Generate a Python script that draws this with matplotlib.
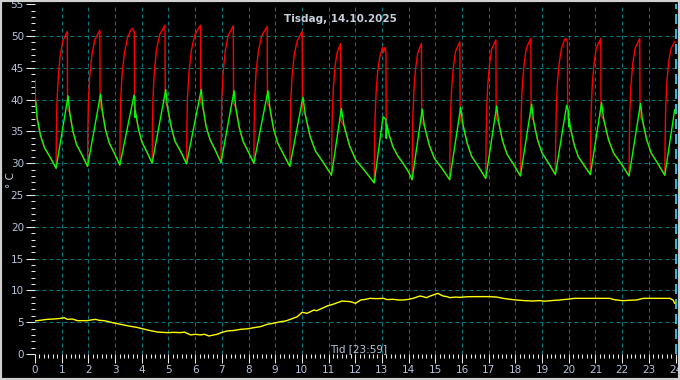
import numpy as np
import matplotlib
matplotlib.use("Agg")
import matplotlib.pyplot as plt
from matplotlib.patches import Rectangle

# hours of the day on the x axis, temperatures in deg C
hours = list(range(25))
temp_ticks = list(range(0, 56, 5))

# red: supply temperature (time, value)
red = [
    (0.00, 43.1), (0.01, 41.0), (0.03, 39.6), (0.08, 37.1), (0.21, 34.3), (0.36, 32.4), (0.56, 31.0),
    (0.79, 29.2), (0.80, 34.6), (0.82, 39.3), (0.87, 43.4), (0.94, 46.8), (1.04, 49.2), (1.21, 50.7),
    (1.22, 38.6), (1.30, 38.0), (1.42, 35.0), (1.56, 32.9), (1.75, 31.4),
    (1.97, 29.5), (1.98, 34.9), (2.00, 39.6), (2.05, 43.6), (2.13, 47.0), (2.24, 49.4), (2.43, 50.9),
    (2.44, 38.9), (2.52, 38.3), (2.64, 35.3), (2.78, 33.2), (2.97, 31.6),
    (3.18, 29.7), (3.19, 35.1), (3.21, 39.8), (3.26, 43.9), (3.35, 47.3), (3.47, 49.8), (3.60, 51.0),
    (3.66, 51.2), (3.72, 50.6), (3.73, 39.0), (3.76, 38.2), (3.88, 35.3), (4.01, 33.3), (4.19, 31.8),
    (4.39, 30.0), (4.40, 35.4), (4.42, 40.2), (4.47, 44.3), (4.55, 47.8), (4.67, 50.2), (4.87, 51.7),
    (4.88, 39.6), (4.96, 38.9), (5.10, 35.8), (5.24, 33.5), (5.45, 31.9),
    (5.68, 29.9), (5.69, 35.4), (5.71, 40.1), (5.77, 44.3), (5.86, 47.8), (5.99, 50.2), (6.20, 51.7),
    (6.21, 39.6), (6.29, 38.9), (6.41, 35.8), (6.56, 33.7), (6.75, 32.1),
    (6.97, 30.1), (6.98, 35.5), (7.00, 40.2), (7.05, 44.3), (7.13, 47.7), (7.24, 50.1), (7.43, 51.6),
    (7.44, 39.4), (7.52, 38.8), (7.65, 35.7), (7.79, 33.5), (7.98, 31.9),
    (8.20, 30.0), (8.21, 35.4), (8.23, 40.1), (8.28, 44.2), (8.37, 47.6), (8.49, 50.0), (8.70, 51.5),
    (8.71, 39.4), (8.80, 38.7), (8.94, 35.4), (9.09, 33.2), (9.30, 31.5),
    (9.55, 29.5), (9.56, 34.8), (9.58, 39.5), (9.63, 43.5), (9.71, 46.9), (9.82, 49.2), (10.01, 50.7),
    (10.02, 38.4), (10.13, 37.6), (10.31, 34.2), (10.51, 31.9), (10.79, 30.2),
    (11.11, 28.1), (11.12, 33.3), (11.14, 37.8), (11.18, 41.8), (11.24, 45.1), (11.32, 47.4), (11.45, 48.8),
    (11.46, 36.6), (11.58, 35.9), (11.79, 32.7), (12.02, 30.5), (12.34, 28.9),
    (12.71, 26.9), (12.72, 32.2), (12.74, 36.9), (12.78, 41.0), (12.84, 44.4), (12.92, 46.7), (13.02, 48.2),
    (13.06, 47.4), (13.11, 48.2), (13.15, 47.5), (13.16, 36.0), (13.26, 34.6), (13.41, 32.6), (13.60, 31.1),
    (13.79, 30.0), (14.00, 28.6),
    (14.13, 27.4), (14.14, 32.8), (14.16, 37.5), (14.20, 41.5), (14.26, 44.9), (14.34, 47.3), (14.48, 48.8),
    (14.49, 36.5), (14.59, 35.9), (14.77, 32.9), (14.96, 30.8), (15.23, 29.3),
    (15.54, 27.4), (15.55, 32.8), (15.57, 37.6), (15.61, 41.7), (15.68, 45.2), (15.76, 47.6), (15.92, 49.1),
    (15.93, 36.8), (16.03, 36.2), (16.19, 33.2), (16.36, 31.1), (16.61, 29.5),
    (16.89, 27.6), (16.90, 33.1), (16.92, 37.8), (16.96, 42.0), (17.03, 45.5), (17.11, 47.9), (17.27, 49.4),
    (17.28, 37.0), (17.37, 36.5), (17.52, 33.5), (17.69, 31.4), (17.92, 29.9),
    (18.19, 28.0), (18.20, 33.4), (18.22, 38.2), (18.26, 42.3), (18.33, 45.7), (18.41, 48.1), (18.58, 49.6),
    (18.59, 37.3), (18.68, 36.7), (18.83, 33.7), (19.00, 31.6), (19.23, 30.1),
    (19.50, 28.2), (19.51, 33.6), (19.53, 38.3), (19.57, 42.3), (19.64, 45.7), (19.73, 48.1), (19.84, 49.4),
    (19.90, 49.6), (19.95, 49.1), (19.96, 37.2), (20.07, 35.4), (20.21, 32.8), (20.36, 31.0), (20.57, 29.7),
    (20.81, 28.2), (20.82, 33.6), (20.84, 38.3), (20.88, 42.3), (20.95, 45.7), (21.03, 48.1), (21.20, 49.6),
    (21.21, 37.5), (21.31, 36.9), (21.49, 33.7), (21.68, 31.6), (21.95, 30.0),
    (22.26, 28.0), (22.27, 33.4), (22.29, 38.2), (22.33, 42.3), (22.40, 45.7), (22.49, 48.1), (22.66, 49.6),
    (22.67, 37.4), (22.76, 36.8), (22.92, 33.7), (23.09, 31.6), (23.33, 30.0),
    (23.60, 28.1), (23.61, 33.5), (23.63, 38.3), (23.67, 42.4), (23.74, 45.8), (23.83, 48.0), (23.97, 49.1),
]

# green: return temperature
green = [
    (0.00, 39.9), (0.03, 39.6), (0.08, 37.1), (0.21, 34.3), (0.36, 32.4), (0.56, 31.0),
    (0.79, 29.2), (1.24, 40.6), (1.30, 38.0), (1.42, 35.0), (1.56, 32.9), (1.75, 31.4),
    (1.97, 29.5), (2.46, 40.9), (2.52, 38.3), (2.64, 35.3), (2.78, 33.2), (2.97, 31.6),
    (3.18, 29.7), (3.71, 40.7), (3.74, 40.2), (3.75, 37.2), (3.76, 38.2), (3.88, 35.3), (4.01, 33.3), (4.19, 31.8),
    (4.39, 30.0), (4.90, 41.6), (4.96, 38.9), (5.10, 35.8), (5.24, 33.5), (5.45, 31.9),
    (5.68, 29.9), (6.23, 41.6), (6.29, 38.9), (6.41, 35.8), (6.56, 33.7), (6.75, 32.1),
    (6.97, 30.1), (7.46, 41.4), (7.52, 38.8), (7.65, 35.7), (7.79, 33.5), (7.98, 31.9),
    (8.20, 30.0), (8.73, 41.4), (8.80, 38.7), (8.94, 35.4), (9.09, 33.2), (9.30, 31.5),
    (9.55, 29.5), (10.04, 40.4), (10.13, 37.6), (10.31, 34.2), (10.51, 31.9), (10.79, 30.2),
    (11.11, 28.1), (11.48, 38.6), (11.58, 35.9), (11.79, 32.7), (12.02, 30.5), (12.34, 28.9),
    (12.71, 26.9), (13.04, 37.3), (13.15, 36.9), (13.16, 33.9), (13.18, 36.2), (13.26, 34.6), (13.41, 32.6),
    (13.60, 31.1), (13.79, 30.0), (14.00, 28.6),
    (14.13, 27.4), (14.51, 38.5), (14.59, 35.9), (14.77, 32.9), (14.96, 30.8), (15.23, 29.3),
    (15.54, 27.4), (15.95, 38.8), (16.03, 36.2), (16.19, 33.2), (16.36, 31.1), (16.61, 29.5),
    (16.89, 27.6), (17.30, 39.0), (17.37, 36.5), (17.52, 33.5), (17.69, 31.4), (17.92, 29.9),
    (18.19, 28.0), (18.61, 39.3), (18.68, 36.7), (18.83, 33.7), (19.00, 31.6), (19.23, 30.1),
    (19.50, 28.2), (19.92, 39.1), (19.99, 38.2), (20.00, 35.7), (20.01, 37.0), (20.07, 35.4), (20.21, 32.8),
    (20.36, 31.0), (20.57, 29.7),
    (20.81, 28.2), (21.23, 39.5), (21.31, 36.9), (21.49, 33.7), (21.68, 31.6), (21.95, 30.0),
    (22.26, 28.0), (22.69, 39.4), (22.76, 36.8), (22.92, 33.7), (23.09, 31.6), (23.33, 30.0),
    (23.60, 28.1), (23.97, 38.4),
]

# yellow: outdoor temperature
outdoor = [
    (0.00, 5.2), (0.20, 5.3), (0.46, 5.45), (0.70, 5.5), (0.96, 5.6), (1.10, 5.7), (1.21, 5.45),
    (1.40, 5.5), (1.59, 5.24), (1.96, 5.24), (2.10, 5.35), (2.27, 5.45), (2.40, 5.3), (2.58, 5.24),
    (2.75, 5.1), (2.90, 4.93), (3.21, 4.66), (3.58, 4.35), (3.80, 4.2), (3.96, 4.04), (4.10, 3.9),
    (4.27, 3.72), (4.58, 3.46), (4.96, 3.36), (5.20, 3.4), (5.46, 3.36), (5.60, 3.45), (5.83, 3.0),
    (6.00, 3.1), (6.20, 3.0), (6.35, 3.1), (6.52, 2.83), (6.70, 3.0), (6.83, 3.1), (7.00, 3.4),
    (7.20, 3.62), (7.45, 3.7), (7.70, 3.88), (7.95, 3.95), (8.20, 4.14), (8.45, 4.3), (8.70, 4.66),
    (8.95, 4.85), (9.20, 5.08), (9.40, 5.2), (9.57, 5.45), (9.83, 5.87), (10.01, 6.55), (10.20, 6.4),
    (10.45, 6.92), (10.55, 6.8), (10.70, 7.08), (10.95, 7.55), (11.20, 7.86), (11.35, 8.1),
    (11.51, 8.33), (11.82, 8.23), (12.01, 7.97), (12.20, 8.49), (12.40, 8.6), (12.55, 8.75),
    (12.80, 8.7), (13.05, 8.75), (13.20, 8.55), (13.42, 8.6), (13.61, 8.49), (13.80, 8.5),
    (14.02, 8.6), (14.20, 8.8), (14.42, 9.12), (14.55, 9.0), (14.67, 8.86), (14.80, 9.1),
    (14.92, 9.28), (15.10, 9.54), (15.20, 9.3), (15.29, 9.12), (15.45, 9.0), (15.54, 8.86),
    (15.75, 8.95), (15.92, 8.91), (16.20, 9.0), (16.42, 9.02), (17.04, 9.02), (17.30, 8.95),
    (17.54, 8.75), (17.80, 8.6), (18.04, 8.49), (18.30, 8.4), (18.67, 8.33), (18.90, 8.4),
    (19.10, 8.3), (19.29, 8.38), (19.66, 8.49), (20.04, 8.65), (20.20, 8.75), (20.54, 8.75),
    (21.54, 8.75), (21.65, 8.6), (21.79, 8.49), (22.04, 8.38), (22.30, 8.45), (22.54, 8.49),
    (22.79, 8.75), (23.79, 8.75), (23.91, 8.49), (23.97, 7.97),
]

title = "Tisdag, 14.10.2025"
xlabel = "Tid [23:59]"
ylabel = "° C"

label_col = '#b4c6dc'
tick_col = '#e8e8e8'
grid_col = '#00797e'

fig = plt.figure(figsize=(6.8, 3.8), dpi=100, facecolor='black')
ax = fig.add_axes([35/680, 26/380, 640.5/680, 349.8/380])
ax.set_facecolor('black')
for s in ax.spines.values():
    s.set_visible(False)

# grid (dashed dark cyan), skipping the edges
for h in hours[1:-1]:
    ax.axvline(h, color=grid_col, lw=0.72, ls=(0, (4, 3)), zorder=1)
for v in temp_ticks[1:-1]:
    ax.axhline(v, color=grid_col, lw=0.72, ls=(0, (4, 3)), zorder=1)
# current time marker at end of day
ax.axvline(hours[-1], color='#40dcff', lw=1.2, ls=(0, (6, 3)), zorder=1, clip_on=False)

rt, rv = zip(*red)
gt, gv = zip(*green)
ot, ov = zip(*outdoor)
ax.plot(rt, rv, color='#ff0000', lw=1.0, zorder=3)
ax.plot(gt, gv, color='#00ff00', lw=1.0, zorder=4)
ax.plot(ot, ov, color='#ffff00', lw=1.0, zorder=4)

ax.set_xlim(0, 24)
ax.set_ylim(0, 55)
ax.set_xticks(hours)
ax.set_xticks([h + m / 6 for h in hours[:-1] for m in range(1, 6)], minor=True)
ax.set_yticks(temp_ticks)
ax.set_yticks(range(56), minor=True)
ax.tick_params(which='major', length=6.5, width=0.75, color=tick_col,
               labelcolor=label_col, labelsize=7.5, pad=1.5)
ax.tick_params(which='minor', length=3, width=0.75, color=tick_col)

fig.text(340/680, 1 - 19/380, title, ha='center', va='center',
         color='#c8d0dc', fontsize=7.5, fontweight='bold')
fig.text(359/680, 1 - 349/380, xlabel, ha='center', va='center',
         color=label_col, fontsize=7.5)
fig.text(11/680, 1 - 180/380, ylabel, ha='center', va='center',
         color='#c8d0dc', fontsize=7.5, rotation=90)

fig.patches.append(Rectangle((0, 0), 1, 1, transform=fig.transFigure, fill=False,
                             edgecolor='#d0d0d0', lw=3, zorder=10))

fig.savefig('out.png', dpi=100, facecolor='black')
